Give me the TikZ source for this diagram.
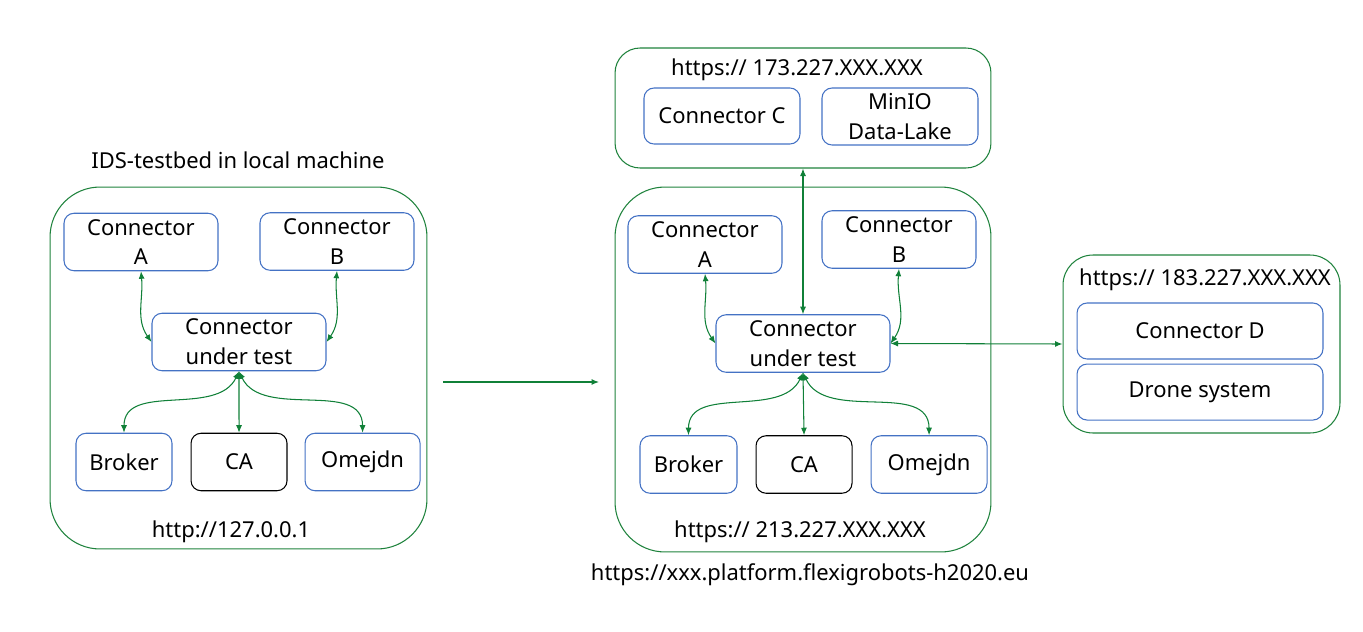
\documentclass[tikz,border=0pt]{standalone}
\usepackage{fontspec}
\setmainfont{Noto Sans}
\usetikzlibrary{positioning, arrows.meta}
\definecolor{hostgreen}{RGB}{30,130,60}
\definecolor{compblue}{RGB}{68,114,196}
\definecolor{linkgreen}{RGB}{16,128,56}

\begin{document}
\begin{tikzpicture}[x=0.02cm, y=-0.02cm,
	every node/.style={font=\fontsize{12.5}{17}\selectfont},
	host/.style={rectangle, draw=hostgreen, line width=0.6pt, rounded corners=1cm, inner sep=0pt},
	comp/.style={rectangle, draw=compblue, line width=0.6pt, rounded corners=0.2cm, align=center, inner sep=0pt, minimum height=1.15cm},
	link/.style={linkgreen, line width=0.6pt, {Latex[length=0.15cm,width=0.12cm]}-{Latex[length=0.15cm,width=0.12cm]}},
	]
	\useasboundingbox (0,0) rectangle (1363,632);
	% Local testbed
	\node[host, minimum width=7.54cm, minimum height=7.24cm] (local) at (238.5,368) {};
	\node (local_title) at (238,160) {IDS-testbed in local machine};
	\node (local_addr) at (231,532) {http://127.0.0.1};
	\node[comp, minimum width=3.08cm] (A_l) at (141,242) {Connector\\A};
	\node[comp, minimum width=3.08cm] (B_l) at (337,241.5) {Connector\\B};
	\node[comp, minimum width=3.48cm] (cut_l) at (239,342) {Connector\\under test};
	\node[comp, minimum width=1.92cm] (broker_l) at (124,462) {Broker};
	\node[comp, draw=black, minimum width=1.92cm, right=0.36cm of broker_l] (ca_l) {CA};
	\node[comp, minimum width=2.3cm, right=0.34cm of ca_l] (omejdn_l) {Omejdn};
	% Edges local
	\draw[link] (A_l.south) to[out=-85, in=125] (cut_l.west);
	\draw[link] (B_l.south) to[out=-95, in=55] (cut_l.east);
	\draw[link] (cut_l.south) to[out=-115, in=90] (broker_l.north);
	\draw[link] (cut_l.south) -- (ca_l.north);
	\draw[link] (cut_l.south) to[out=-65, in=90] (omejdn_l.north);

	% Step to platform
	\coordinate (step_from) at (443,382);
	\coordinate (step_to) at (599,382);
	\draw[-{Latex[length=0.15cm,width=0.12cm]}, line width=0.6pt, linkgreen] (step_from) -- (step_to);

	% Platform testbed
	\node[host, minimum width=7.52cm, minimum height=7.3cm] (platform) at (803,369.5) {};
	\node (platform_addr) at (800,532) {https:// 213.227.XXX.XXX};
	\node (platform_url) at (810,575) {https://xxx.platform.flexigrobots-h2020.eu};
	\node[comp, minimum width=3.08cm] (A_m) at (705,244.5) {Connector\\A};
	\node[comp, minimum width=3.08cm] (B_m) at (899,239.5) {Connector\\B};
	\node[comp, minimum width=3.48cm] (cut_m) at (803,343.5) {Connector\\under test};
	\node[comp, minimum width=1.94cm] (broker_m) at (688.5,464.5) {Broker};
	\node[comp, draw=black, minimum width=1.92cm, right=0.36cm of broker_m] (ca_m) {CA};
	\node[comp, minimum width=2.32cm, right=0.36cm of ca_m] (omejdn_m) {Omejdn};
	% Edges platform
	\draw[link] (A_m.south) to[out=-85, in=125] (cut_m.west);
	\draw[link] (B_m.south) to[out=-95, in=55] (cut_m.east);
	\draw[link] (cut_m.south) to[out=-115, in=90] (broker_m.north);
	\draw[link] (cut_m.south) -- (ca_m.north);
	\draw[link] (cut_m.south) to[out=-65, in=90] (omejdn_m.north);

	% Data-lake host
	\node[host, rounded corners=0.5cm, minimum width=7.52cm, minimum height=2.4cm] (lake) at (803,108) {};
	\node (lake_addr) at (797,70) {https:// 173.227.XXX.XXX};
	\node[comp, minimum width=3.12cm, minimum height=1.12cm] (C) at (722,116) {Connector C};
	\node[comp, minimum width=3.12cm, minimum height=1.14cm] (minio) at (900,116.5) {MinIO\\Data-Lake};
	\draw[link] (lake.south) -- (cut_m.north);

	% Drone host
	\node[host, rounded corners=0.6cm, minimum width=5.54cm, minimum height=3.56cm] (drone_host) at (1201.5,344) {};
	\node (drone_addr) at (1205,280) {https:// 183.227.XXX.XXX};
	\node[comp, minimum width=4.92cm, minimum height=1.12cm] (D) at (1200,331) {Connector D};
	\node[comp, minimum width=4.92cm, minimum height=1.12cm, below=0.08cm of D] (drone) {Drone system};
	\draw[link] (cut_m.east) -- (drone_host.west);
\end{tikzpicture}
\end{document}
